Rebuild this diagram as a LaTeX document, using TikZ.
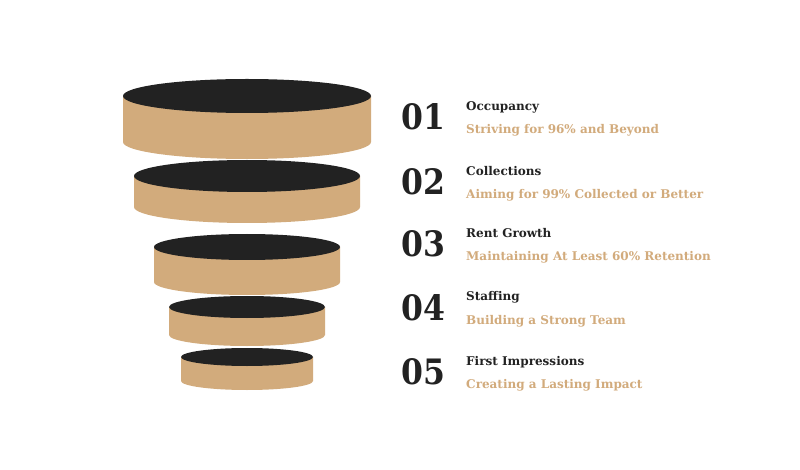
\documentclass[tikz,border=0pt]{standalone}
\usepackage{fontspec}
\setmainfont{DejaVu Serif}
\begin{document}
\begin{tikzpicture}[x=1pt,y=-1pt,
  num/.style={anchor=base west,inner sep=0,font=\bfseries\fontsize{35}{35}\selectfont,text=dark,xscale=0.9},
  ttl/.style={anchor=base west,inner sep=0,font=\bfseries\fontsize{12}{12}\selectfont,text=dark},
  sub/.style={anchor=base west,inner sep=0,font=\bfseries\fontsize{12}{12}\selectfont,text=tan}]
\definecolor{dark}{HTML}{222222}
\definecolor{tan}{HTML}{D2AB7C}
\useasboundingbox (0,0) rectangle (800,470);
\fill[white] (0,0) rectangle (800,470);
\foreach \t/\b/\rx/\ry [count=\i] in {96/142/124/17,176/207/113/16,247/282/93/13,307/335/78/11,357/381/66/9}{
  \fill[tan] (247-\rx,\t) -- (247-\rx,\b) arc[start angle=180,end angle=360,x radius=\rx,y radius=-\ry] -- (247+\rx,\t) -- cycle;
  \fill[dark] (247,\t) ellipse[x radius=\rx,y radius=\ry];
}
\foreach \n/\a/\b/\y in {01/Occupancy/Striving for 96\% and Beyond/130,
  02/Collections/Aiming for 99\% Collected or Better/195,
  03/Rent Growth/Maintaining At Least 60\% Retention/257,
  04/Staffing/Building a Strong Team/320,
  05/First Impressions/Creating a Lasting Impact/384}{
  \node[num] (n\n) at (401,\y) {\n};
  \node[ttl] (t\n) at (466,\y-19) {\a};
  \node[sub] (s\n) at (466,\y+4) {\b};
}
\end{tikzpicture}
\end{document}
